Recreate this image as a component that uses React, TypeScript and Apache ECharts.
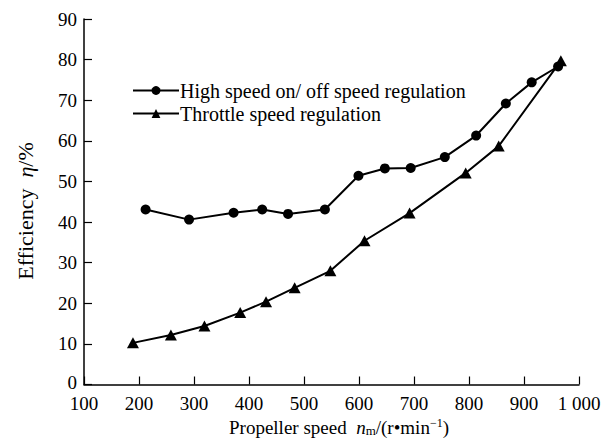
import React, { useEffect, useRef } from "react";
import * as echarts from "echarts";

const onOffSpeed = [212, 291, 372, 424, 471, 538, 599, 647, 694, 756, 813, 867, 914, 962];
const onOffEff = [43.1, 40.6, 42.3, 43.1, 42.0, 43.1, 51.4, 53.2, 53.3, 56.0, 61.3, 69.2, 74.4, 78.3];
const throttleSpeed = [189, 258, 319, 384, 431, 483, 548, 610, 692, 794, 854, 967];
const throttleEff = [10.25, 12.2, 14.4, 17.7, 20.4, 23.8, 28.0, 35.4, 42.2, 52.1, 58.7, 79.7];
const seriesNames = ["High speed on/ off speed regulation", "Throttle speed regulation"];
const xTicks = [100, 200, 300, 400, 500, 600, 700, 800, 900, 1000];
const xTickLabels = ["100", "200", "300", "400", "500", "600", "700", "800", "900", "1 000"];

const FONT = "'Liberation Serif', 'Times New Roman', serif";

export default function App() {
  const ref = useRef<HTMLDivElement>(null);
  useEffect(() => {
    if (!ref.current) return;
    const chart = echarts.init(ref.current, undefined, { renderer: "svg" });
    const pair = (xs: number[], ys: number[]) => xs.map((x, i) => [x, ys[i]]);
    chart.setOption({
      animation: false,
      backgroundColor: "#ffffff",
      textStyle: { fontFamily: FONT, color: "#000" },
      grid: { left: 84, right: 35, top: 19, bottom: 56.5, outerBoundsMode: "none" },
      legend: {
        orient: "vertical",
        left: 132,
        top: 80.5,
        padding: 0,
        itemWidth: 46,
        itemHeight: 11,
        itemGap: 3,
        textStyle: { fontFamily: FONT, fontSize: 20, color: "#000", padding: [0, 0, 0, -4] },
        data: seriesNames,
      },
      graphic: [
        {
          type: "text",
          x: 339,
          y: 427,
          style: {
            text: "{a|Propeller speed  }{i|n}{s|m}{a|/(r•min}{p|−1}{a|)}",
            align: "center",
            verticalAlign: "middle",
            rich: {
              a: { fontFamily: FONT, fontSize: 19, fill: "#000" },
              i: { fontFamily: FONT, fontSize: 19, fontStyle: "italic", fill: "#000" },
              s: { fontFamily: FONT, fontSize: 13, fill: "#000", padding: [7, 0, 0, 0] },
              p: { fontFamily: FONT, fontSize: 12, fill: "#000", padding: [0, 0, 8, 0] },
            },
          },
        },
        {
          type: "text",
          x: 25,
          y: 211,
          rotation: Math.PI / 2,
          style: {
            text: "{a|Efficiency  }{i|η}{a|/%}",
            align: "center",
            verticalAlign: "middle",
            rich: {
              a: { fontFamily: FONT, fontSize: 22, fill: "#000" },
              i: { fontFamily: FONT, fontSize: 22, fontStyle: "italic", fill: "#000" },
            },
          },
        },
      ],
      xAxis: {
        type: "value",
        min: 100,
        max: 1000,
        interval: 100,
        axisLine: { show: true, lineStyle: { color: "#000", width: 1.5 } },
        axisTick: { show: true, inside: true, length: 8, lineStyle: { color: "#000", width: 1.2 } },
        axisLabel: {
          fontFamily: FONT,
          fontSize: 19,
          lineHeight: 15,
          color: "#000",
          margin: 11,
          formatter: (v: number) => {
            const idx = xTicks.indexOf(v);
            return idx >= 0 ? xTickLabels[idx] : String(v);
          },
        },
        splitLine: { show: false },
      },
      yAxis: {
        type: "value",
        min: 0,
        max: 90,
        interval: 10,
        axisLine: { show: true, lineStyle: { color: "#000", width: 1.5 } },
        axisTick: { show: true, inside: true, length: 8, lineStyle: { color: "#000", width: 1.2 } },
        axisLabel: {
          fontFamily: FONT,
          fontSize: 19,
          lineHeight: 15,
          color: "#000",
          margin: 7,
          formatter: (v: number) => (v === 0 ? "{z|0}" : String(v)),
          rich: {
            z: { fontFamily: FONT, fontSize: 19, lineHeight: 15, color: "#000", padding: [0, 0, 4, 0] },
          },
        },
        splitLine: { show: false },
      },
      series: [
        {
          name: seriesNames[0],
          type: "line",
          data: pair(onOffSpeed, onOffEff),
          symbol: "circle",
          symbolSize: 10,
          itemStyle: { color: "#000" },
          lineStyle: { color: "#000", width: 2 },
          z: 3,
        },
        {
          name: seriesNames[1],
          type: "line",
          data: pair(throttleSpeed, throttleEff),
          symbol: "triangle",
          symbolSize: [12, 11],
          itemStyle: { color: "#000" },
          lineStyle: { color: "#000", width: 2 },
          z: 2,
        },
      ],
    });
    return () => chart.dispose();
  }, []);
  return <div ref={ref} style={{ width: 614, height: 441, position: "absolute", left: 0, top: 0 }} />;
}
